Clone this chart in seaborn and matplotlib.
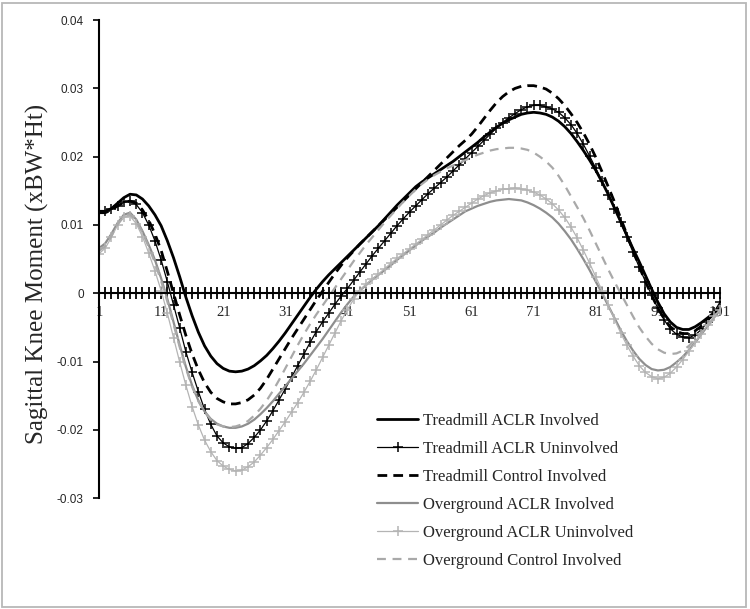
import numpy as np
import pandas as pd
import seaborn as sns
import matplotlib.pyplot as plt
from matplotlib.patches import Rectangle

# Percent of stance (Excel category axis 1..101)
pct = np.arange(1, 102)

# Sagittal knee moment in units of 0.001 xBW*Ht
tm_aclr_inv = np.array([
    12.0, 12.0, 12.4, 13.2, 14.0, 14.5, 14.4, 13.8, 12.8, 11.5,
    9.9, 7.7, 5.2, 2.4, -0.6, -3.3, -5.7, -7.7, -9.2, -10.3,
    -11.0, -11.4, -11.5, -11.4, -11.1, -10.6, -9.9, -9.1, -8.1, -7.0,
    -5.8, -4.5, -3.2, -1.9, -0.6, 0.6, 1.7, 2.7, 3.6, 4.5,
    5.4, 6.3, 7.2, 8.1, 9.0, 9.9, 10.9, 11.9, 12.9, 13.8,
    14.7, 15.6, 16.3, 16.9, 17.5, 18.1, 18.7, 19.3, 20.0, 20.7,
    21.4, 22.1, 22.9, 23.6, 24.3, 24.9, 25.4, 25.8, 26.2, 26.4,
    26.5, 26.4, 26.2, 25.8, 25.2, 24.4, 23.4, 22.2, 20.9, 19.5,
    18.0, 16.3, 14.5, 12.5, 10.5, 8.5, 6.5, 4.6, 2.6, 0.6,
    -1.3, -3.0, -4.2, -5.0, -5.3, -5.3, -4.9, -4.3, -3.6, -2.9,
    -2.2]) / 1000

tm_aclr_uninv = np.array([
    12.0, 12.0, 12.3, 12.8, 13.3, 13.5, 13.0, 11.8, 10.0, 7.7,
    4.9, 1.7, -1.7, -5.1, -8.6, -11.6, -14.4, -17.0, -19.2, -20.9,
    -21.9, -22.5, -22.7, -22.6, -22.0, -21.1, -20.0, -18.7, -17.2, -15.6,
    -14.0, -12.3, -10.6, -8.9, -7.2, -5.6, -4.2, -2.9, -1.6, -0.4,
    0.7, 1.9, 3.1, 4.3, 5.5, 6.6, 7.7, 8.8, 9.9, 10.9,
    11.9, 12.8, 13.7, 14.6, 15.4, 16.2, 17.0, 17.9, 18.8, 19.7,
    20.6, 21.5, 22.4, 23.3, 24.2, 25.0, 25.7, 26.3, 26.9, 27.3,
    27.5, 27.5, 27.3, 27.0, 26.5, 25.7, 24.7, 23.4, 21.8, 20.1,
    18.3, 16.4, 14.4, 12.4, 10.4, 8.2, 6.0, 3.8, 1.7, -0.3,
    -2.2, -3.9, -5.2, -6.0, -6.4, -6.5, -6.1, -5.3, -4.2, -2.8,
    -1.3]) / 1000

tm_ctrl_inv = np.array([
    11.8, 11.8, 12.2, 12.8, 13.3, 13.5, 13.2, 12.2, 10.7, 8.7,
    6.3, 3.2, 0.0, -3.2, -6.2, -8.9, -11.2, -13.1, -14.5, -15.4,
    -15.9, -16.2, -16.2, -16.0, -15.6, -14.9, -13.9, -12.6, -11.1, -9.6,
    -8.1, -6.6, -5.2, -3.8, -2.4, -1.0, 0.3, 1.6, 2.9, 4.1,
    5.2, 6.2, 7.2, 8.1, 9.0, 9.9, 10.8, 11.7, 12.6, 13.5,
    14.4, 15.3, 16.2, 17.1, 18.0, 18.9, 19.8, 20.7, 21.6, 22.4,
    23.3, 24.4, 25.6, 26.8, 27.9, 28.8, 29.5, 30.0, 30.3, 30.4,
    30.4, 30.2, 29.9, 29.3, 28.5, 27.5, 26.3, 25.0, 23.5, 21.8,
    19.9, 17.8, 15.6, 13.4, 11.0, 8.6, 6.2, 3.9, 1.7, -0.3,
    -2.2, -3.7, -4.9, -5.6, -5.9, -5.9, -5.5, -4.8, -3.9, -3.0,
    -2.1]) / 1000

og_aclr_inv = np.array([
    6.6, 7.3, 8.7, 10.3, 11.5, 11.8, 10.8, 9.1, 7.1, 4.9,
    2.2, -0.8, -4.2, -7.6, -10.8, -13.5, -15.7, -17.3, -18.4, -19.1,
    -19.5, -19.7, -19.7, -19.5, -19.1, -18.5, -17.7, -16.8, -15.8, -14.7,
    -13.6, -12.5, -11.4, -10.3, -9.1, -7.9, -6.7, -5.4, -4.1, -2.8,
    -1.6, -0.5, 0.4, 1.2, 2.0, 2.7, 3.4, 4.1, 4.9, 5.6,
    6.3, 7.0, 7.7, 8.3, 8.9, 9.6, 10.2, 10.8, 11.4, 12.0,
    12.4, 12.8, 13.1, 13.4, 13.6, 13.7, 13.8, 13.7, 13.6, 13.3,
    12.9, 12.4, 11.8, 11.1, 10.2, 9.1, 7.9, 6.5, 5.0, 3.4,
    1.7, 0.0, -1.8, -3.6, -5.4, -7.0, -8.4, -9.6, -10.5, -11.1,
    -11.3, -11.2, -10.8, -10.1, -9.3, -8.3, -7.2, -6.0, -4.8, -3.6,
    -2.5]) / 1000

og_aclr_uninv = np.array([
    5.8, 6.6, 8.2, 10.0, 11.1, 11.3, 10.2, 8.3, 5.9, 3.3,
    0.4, -2.9, -6.5, -10.1, -13.5, -16.6, -19.3, -21.5, -23.2, -24.5,
    -25.3, -25.8, -26.0, -25.9, -25.4, -24.7, -23.7, -22.6, -21.4, -20.1,
    -18.8, -17.4, -16.0, -14.5, -12.9, -11.2, -9.4, -7.6, -5.8, -4.0,
    -2.4, -0.9, 0.4, 1.3, 2.1, 2.8, 3.6, 4.4, 5.1, 5.8,
    6.5, 7.2, 7.9, 8.6, 9.3, 10.0, 10.7, 11.4, 12.0, 12.6,
    13.2, 13.8, 14.3, 14.7, 15.0, 15.2, 15.3, 15.4, 15.3, 15.1,
    14.8, 14.4, 13.8, 13.1, 12.2, 11.1, 9.7, 8.1, 6.3, 4.4,
    2.4, 0.4, -1.7, -3.8, -5.8, -7.6, -9.2, -10.6, -11.6, -12.2,
    -12.5, -12.3, -11.7, -10.8, -9.7, -8.5, -7.2, -5.9, -4.6, -3.4,
    -2.4]) / 1000

og_ctrl_inv = np.array([
    6.2, 6.9, 8.4, 10.1, 11.3, 11.6, 10.6, 8.9, 6.8, 4.5,
    1.8, -1.2, -4.5, -7.9, -11.0, -13.7, -15.8, -17.4, -18.5, -19.2,
    -19.5, -19.6, -19.5, -19.2, -18.7, -17.9, -16.9, -15.7, -14.3, -12.7,
    -11.0, -9.3, -7.6, -6.0, -4.5, -3.1, -1.8, -0.5, 0.8, 2.1,
    3.4, 4.7, 5.9, 7.1, 8.2, 9.3, 10.4, 11.4, 12.4, 13.4,
    14.3, 15.2, 16.0, 16.7, 17.3, 17.8, 18.3, 18.7, 19.1, 19.5,
    19.9, 20.3, 20.6, 20.9, 21.1, 21.2, 21.3, 21.3, 21.2, 21.0,
    20.6, 20.0, 19.3, 18.4, 17.2, 15.8, 14.2, 12.6, 11.0, 9.2,
    7.3, 5.4, 3.5, 1.7, 0.0, -1.7, -3.4, -5.0, -6.3, -7.4,
    -8.2, -8.7, -8.9, -8.8, -8.4, -7.7, -6.8, -5.8, -4.8, -3.8,
    -2.8]) / 1000

series_names = ['Treadmill ACLR Involved', 'Treadmill ACLR Uninvolved',
                'Treadmill Control Involved', 'Overground ACLR Involved',
                'Overground ACLR Uninvolved', 'Overground Control Involved']
x_tick_labels = [str(v) for v in range(1, 102, 10)]

sns.set_style('white')
plt.rcParams['font.family'] = ['Liberation Serif', 'DejaVu Serif']

fig = plt.figure(figsize=(7.5, 6.09), dpi=100)
ax = fig.add_axes([0.132, 0.182, 0.828, 0.785])

# (series, color, line width, linestyle, marker)
styles = [
    (tm_aclr_inv, '#000000', 2.0, '-', None),
    (tm_aclr_uninv, '#000000', 0.9, '-', '+'),
    (tm_ctrl_inv, '#000000', 2.0, (0, (3.5, 2.2)), None),
    (og_aclr_inv, '#8e8e8e', 1.6, '-', None),
    (og_aclr_uninv, '#b4b4b4', 0.9, '-', '+'),
    (og_ctrl_inv, '#a9a9a9', 1.6, (0, (4.0, 3.0)), None),
]

for name, (vals, col, lw, ls, mk) in zip(series_names, styles):
    df = pd.DataFrame({'pct': pct, 'moment': vals})
    kw = {}
    if mk:
        kw = dict(marker=mk, markersize=6.5, markeredgewidth=1.1,
                  markeredgecolor=col)
    sns.lineplot(data=df, x='pct', y='moment', ax=ax, color=col,
                 linewidth=lw, linestyle=ls, label=name, **kw)

ax.set_xlim(1, 101)
ax.set_ylim(-0.03, 0.04)

# x axis drawn through zero, a tick at every category
ax.spines['bottom'].set_position(('data', 0))
ax.spines['top'].set_visible(False)
ax.spines['right'].set_visible(False)
for s in ['left', 'bottom']:
    ax.spines[s].set_color('black')
    ax.spines[s].set_linewidth(1.5)

ax.set_xticks(pct)
ax.set_xticklabels([str(v) if str(v) in x_tick_labels else '' for v in pct],
                   fontsize=10.5)
ax.tick_params(axis='x', direction='inout', length=9, width=1.3,
               color='black', pad=5, bottom=True)

ax.set_yticks([-0.03, -0.02, -0.01, 0, 0.01, 0.02, 0.03, 0.04])
ax.set_yticklabels(['-0.03', '-0.02', '-0.01', '0', '0.01', '0.02', '0.03', '0.04'],
                   family='Liberation Sans', fontsize=8.5)
ax.tick_params(axis='y', direction='out', length=4, width=1.2,
               color='black', pad=7, left=True)

ax.set_xlabel('')
ax.set_ylabel('')
fig.text(0.05, 0.55, 'Sagittal Knee Moment (xBW*Ht)', rotation=90,
         ha='center', va='center', fontsize=18)

ax.legend(loc='upper left', bbox_to_anchor=(0.448, 0.178), frameon=False,
          fontsize=12, handlelength=2.45, handletextpad=0.3,
          labelspacing=0.72, borderpad=0, borderaxespad=0)

fig.patches.append(Rectangle((0.003, 0.004), 0.992, 0.991,
                             transform=fig.transFigure, fill=False,
                             edgecolor='#b8b8b8', linewidth=1.3))

fig.savefig('out.png', dpi=100)
